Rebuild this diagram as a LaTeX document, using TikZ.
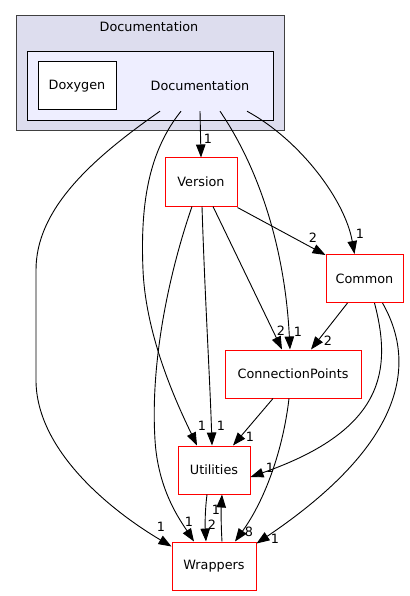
\documentclass[tikz,border=0pt]{standalone}
\usepackage{fontspec}
\setmainfont{DejaVu Sans}
\usetikzlibrary{arrows.meta, positioning}
\definecolor{clusterfill}{HTML}{DDDDEE}
\definecolor{clusterline}{HTML}{404040}
\definecolor{innerfill}  {HTML}{EEEEFF}
\definecolor{dirred}     {HTML}{FF0000}

\begin{document}
\begin{tikzpicture}[x=1pt, y=-1pt,
    every node/.style={font=\fontsize{12.8}{15}\selectfont, inner sep=0pt},
    dirbox/.style={draw=dirred, fill=white, line width=1pt, minimum height=48pt},
    dep/.style={draw=black, line width=0.9pt, -{Triangle[length=13pt 0,width=9.5pt 0]}},
    cnt/.style={font=\fontsize{12.8}{15}\selectfont}]
  \useasboundingbox (0,0) rectangle (409,596);

  % directory cluster
  \node[draw=clusterline, fill=clusterfill, line width=1pt, minimum width=268pt, minimum height=115pt] (outer) at (150,73.5) {};
  \node (title) at (149,27) {Documentation};
  \node[draw=black, fill=innerfill, line width=1pt, minimum width=246pt, minimum height=69pt] (inner) at (150,86.5) {};
  \node[draw=black, fill=white, line width=1pt, minimum width=78pt, minimum height=48pt] (doxygen) at (77,86) {Doxygen};
  \node[minimum width=98pt, minimum height=50pt] (doc) at (200,86) {Documentation};

  % sub directories
  \node[dirbox, minimum width=72pt]  (version)   at (201,182) {Version};
  \node[dirbox, minimum width=77pt]  (common)    at (364.5,278.5) {Common};
  \node[dirbox, minimum width=136pt] (connpts)   at (293,374) {ConnectionPoints};
  \node[dirbox, minimum width=72pt]  (utilities) at (214,470) {Utilities};
  \node[dirbox, minimum width=84pt]  (wrappers)  at (214,566) {Wrappers};

  % from Documentation
  \draw[dep] ([xshift=-40pt]doc.south) .. controls (90,160) and (36,210) .. (36,270)
    -- (36,380) .. controls (36,450) and (110,510) .. ([yshift=-5pt]wrappers.north west);
  \draw[dep] ([xshift=-19pt]doc.south) .. controls (150,150) and (140,200) .. (143,270)
    .. controls (146,340) and (180,410) .. ([xshift=-17pt]utilities.north);
  \draw[dep] (doc.south) -- (version.north);
  \draw[dep] ([xshift=20pt]doc.south) .. controls (260,170) and (285,250) .. ([xshift=-3pt]connpts.north);
  \draw[dep] ([xshift=47pt]doc.south) .. controls (300,140) and (345,200) .. ([xshift=-10pt]common.north);
  \node[cnt] (l1) at (161,527) {1};
  \node[cnt] (l2) at (202,426) {1};
  \node[cnt] (l3) at (208,139) {1};
  \node[cnt] (l4) at (298,332) {1};
  \node[cnt] (l5) at (360,234) {1};

  % from Version
  \draw[dep] ([yshift=-1pt]version.south east) -- ([yshift=-1pt]common.north west);
  \draw[dep] ([xshift=12pt]version.south) -- ([xshift=-11pt]connpts.north);
  \draw[dep] ([xshift=1pt]version.south) .. controls (205,300) and (210,380) .. ([xshift=-2pt]utilities.north);
  \draw[dep] ([xshift=-9pt]version.south) .. controls (170,270) and (150,360) .. (155,440)
    .. controls (158,490) and (180,520) .. ([xshift=-20pt]wrappers.north);
  \node[cnt] (l6) at (313,238) {2};
  \node[cnt] (l7) at (281,331) {2};
  \node[cnt] (l8) at (221,426) {1};
  \node[cnt] (l9) at (189,522) {1};

  % from Common
  \draw[dep] ([xshift=-17pt]common.south) -- ([xshift=18pt]connpts.north);
  \draw[dep] ([xshift=10pt]common.south) .. controls (392,370) and (385,430) .. ([yshift=-7pt]utilities.east);
  \draw[dep] ([xshift=18pt]common.south) .. controls (415,360) and (410,440) .. ([yshift=-2pt]wrappers.north east);
  \node[cnt] (l10) at (328,341) {2};
  \node[cnt] (l11) at (270,468) {1};
  \node[cnt] (l12) at (275,539) {1};

  % from ConnectionPoints
  \draw[dep] ([xshift=-20pt]connpts.south) -- ([xshift=19pt]utilities.north);
  \draw[dep] ([xshift=-4pt]connpts.south) .. controls (283,450) and (265,500) .. ([xshift=21pt]wrappers.north);
  \node[cnt] (l13) at (250,437) {1};
  \node[cnt] (l14) at (249,532) {8};

  % Utilities and Wrappers
  \draw[dep] ([xshift=-7pt]utilities.south) .. controls (205,510) and (205,525) .. ([xshift=-8pt]wrappers.north);
  \draw[dep] ([xshift=8pt]wrappers.north) .. controls (221,525) and (221,510) .. ([xshift=8pt]utilities.south);
  \node[cnt] (l15) at (212,525) {2};
  \node[cnt] (l16) at (216,510) {1};
\end{tikzpicture}
\end{document}
